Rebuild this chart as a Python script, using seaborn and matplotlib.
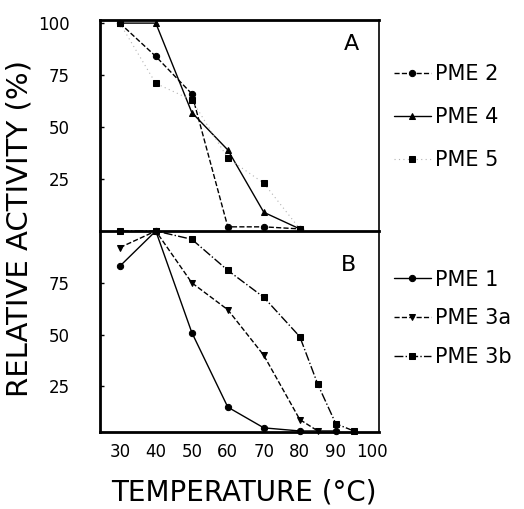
import numpy as np
import pandas as pd
import matplotlib
matplotlib.use("Agg")
import matplotlib.pyplot as plt
import seaborn as sns

# Panel A
temp_a = [30, 40, 50, 60, 70, 80]
pme2 = [100, 84, 66, 2, 2, 1]
pme4 = [100, 100, 57, 39, 9, 1]
pme5 = [100, 71, 63, 35, 23, 1]

# Panel B
temp_b1 = [30, 40, 50, 60, 70, 80, 90]
pme1 = [83, 100, 51, 15, 5, 3.5, 3.5]
temp_b3a = [30, 40, 50, 60, 70, 80, 85]
pme3a = [92, 100, 75, 62, 40, 9, 3.5]
temp_b3b = [30, 40, 50, 60, 70, 80, 85, 90, 95]
pme3b = [100, 100, 96, 81, 68, 49, 26, 7, 3.5]

x_ticks = [30, 40, 50, 60, 70, 80, 90, 100]

sns.set_style("ticks", {'axes.edgecolor': 'black', 'text.color': 'black',
                        'xtick.color': 'black', 'ytick.color': 'black',
                        'axes.labelcolor': 'black'})
plt.rcParams['font.family'] = ['DejaVu Sans']

fig = plt.figure(figsize=(5.24, 5.09), dpi=100)
ax_a = fig.add_axes([100/524, 1-231/509, 279/524, 211/509])
ax_b = fig.add_axes([100/524, 1-432/509, 279/524, 201/509])

k = dict(color='black', linewidth=1.0, markeredgecolor='black', clip_on=False)
sns.lineplot(x=temp_a, y=pme2, ax=ax_a, marker='o', markersize=4.5, linestyle='--', label='PME 2', **k)
sns.lineplot(x=temp_a, y=pme4, ax=ax_a, marker='^', markersize=5, linestyle='-', label='PME 4', **k)
sns.lineplot(x=temp_a, y=pme5, ax=ax_a, marker='s', markersize=5, linestyle=(0, (1, 3)), label='PME 5',
             color='0.7', markerfacecolor='black', markeredgecolor='black', linewidth=0.8, clip_on=False)

sns.lineplot(x=temp_b1, y=pme1, ax=ax_b, marker='o', markersize=4.5, linestyle='-', label='PME 1', **k)
sns.lineplot(x=temp_b3a, y=pme3a, ax=ax_b, marker='v', markersize=5, linestyle='--', label='PME 3a', **k)
sns.lineplot(x=temp_b3b, y=pme3b, ax=ax_b, marker='s', markersize=5, linestyle='-.', label='PME 3b', **k)

for ax, anchor, spacing in ((ax_a, 0.86, 1.1), (ax_b, 0.88, 0.9)):
    ax.set_xlim(24.5, 102)
    ax.set_xlabel('')
    ax.set_ylabel('')
    for s in ax.spines.values():
        s.set_visible(True)
        s.set_linewidth(2.0)
    ax.spines['right'].set_linewidth(1.2)
    ax.tick_params(axis='y', direction='in', length=3, width=1, labelsize=12, pad=22)
    ax.tick_params(axis='x', length=0, labelsize=12, pad=8)
    ax.legend(loc='upper left', bbox_to_anchor=(1.0, anchor), frameon=False, fontsize=15,
              handlelength=1.8, handletextpad=0.2, labelspacing=spacing, borderaxespad=0.3)

ax_a.set_ylim(0, 101.5)
ax_a.set_yticks([25, 50, 75, 100])
ax_a.set_xticks(x_ticks)
ax_a.tick_params(axis='x', labelbottom=False)
ax_a.spines['bottom'].set_visible(False)

ax_b.set_ylim(3, 100)
ax_b.set_yticks([25, 50, 75])
ax_b.set_xticks(x_ticks)
ax_b.set_xticklabels([str(t) for t in x_ticks])

ax_a.text(0.90, 0.86, 'A', transform=ax_a.transAxes, fontsize=16, ha='center')
ax_b.text(0.89, 0.80, 'B', transform=ax_b.transAxes, fontsize=16, ha='center')

fig.text(0.038, (1 - 228/509), 'RELATIVE ACTIVITY (%)', rotation=90, fontsize=21,
         ha='center', va='center')
fig.text(244/524, 1 - 493/509, 'TEMPERATURE (°C)', fontsize=20, ha='center', va='center')

fig.savefig('out.png', dpi=100)
